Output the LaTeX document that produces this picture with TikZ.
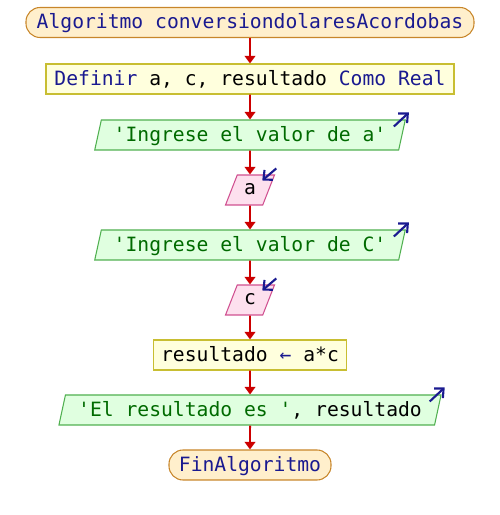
\documentclass[tikz,border=0pt]{standalone}
\usepackage{fontspec}
\newfontfamily\psfont{DejaVu Sans Mono}
\usetikzlibrary{arrows.meta, shapes.geometric}

\definecolor{kw}{HTML}{1A1A90}
\definecolor{str}{HTML}{006A00}
\definecolor{flow}{HTML}{CC0000}

\tikzset{
    base/.style={draw, line width=0.6pt, font=\psfont\fontsize{11.2}{13}\selectfont,
        minimum height=0.6cm, inner sep=0pt, text depth=0.05cm},
    terminal/.style={base, draw={rgb,255:red,200;green,134;blue,42}, fill={rgb,255:red,255;green,239;blue,204},
        rounded corners=0.28cm},
    proc/.style={base, draw={rgb,255:red,200;green,190;blue,50}, fill={rgb,255:red,255;green,255;blue,221}},
    salida/.style={base, trapezium, trapezium left angle=71, trapezium right angle=109,
        trapezium stretches=true, draw={rgb,255:red,80;green,176;blue,80}, fill={rgb,255:red,224;green,255;blue,224}},
    entrada/.style={base, trapezium, trapezium left angle=68, trapezium right angle=112,
        trapezium stretches=true, draw={rgb,255:red,208;green,80;blue,144}, fill={rgb,255:red,253;green,224;blue,238}},
    flecha/.style={-{Triangle[length=0.15cm, width=0.21cm]}, flow, line width=1.1pt},
    marca/.style={-{Straight Barb[length=0.14cm, width=0.26cm]}, kw, line width=1.2pt}
}

\begin{document}
\begin{tikzpicture}
    \useasboundingbox (0, 0) rectangle (10, 10.3);

    \node[terminal, minimum width=8.96cm] (ini) at (5, 9.85) {\color{kw}Algoritmo conversiondolaresAcordobas};
    \node[proc, minimum width=8.16cm] (def) at (5, 8.72) {\color{kw}Definir \color{black}a, c, resultado \color{kw}Como Real};
    \node[salida, minimum width=6.22cm] (o1) at (5, 7.6) {\color{str}'Ingrese el valor de a'};
    \node[entrada, minimum width=0.98cm] (ia) at (5, 6.5) {a};
    \node[salida, minimum width=6.22cm] (o2) at (5, 5.4) {\color{str}'Ingrese el valor de C'};
    \node[entrada, minimum width=0.98cm] (ic) at (5, 4.3) {c};
    \node[proc, minimum width=3.86cm] (asig) at (5, 3.2) {resultado \color{kw}← \color{black}a*c};
    \node[salida, minimum width=7.66cm] (o3) at (5, 2.1) {\color{str}'El resultado es '\color{black}, resultado};
    \node[terminal, minimum width=3.24cm] (fin) at (5, 1.0) {\color{kw}FinAlgoritmo};

    \draw[flecha] (ini.south) -- (def.north);
    \draw[flecha] (def.south) -- (o1.north);
    \draw[flecha] (o1.south) -- (ia.north);
    \draw[flecha] (ia.south) -- (o2.north);
    \draw[flecha] (o2.south) -- (ic.north);
    \draw[flecha] (ic.south) -- (asig.north);
    \draw[flecha] (asig.south) -- (o3.north);
    \draw[flecha] (o3.south) -- (fin.north);

    % marcas de entrada y salida
    \foreach \n in {o1, o2, o3}
        \draw[marca] ([shift={(-0.24,-0.14)}]\n.top right corner) -- ++(0.3, 0.28);
    \foreach \n in {ia, ic}
        \draw[marca] ([shift={(0.02,0.12)}]\n.top right corner) -- ++(-0.28, -0.24);
\end{tikzpicture}
\end{document}
